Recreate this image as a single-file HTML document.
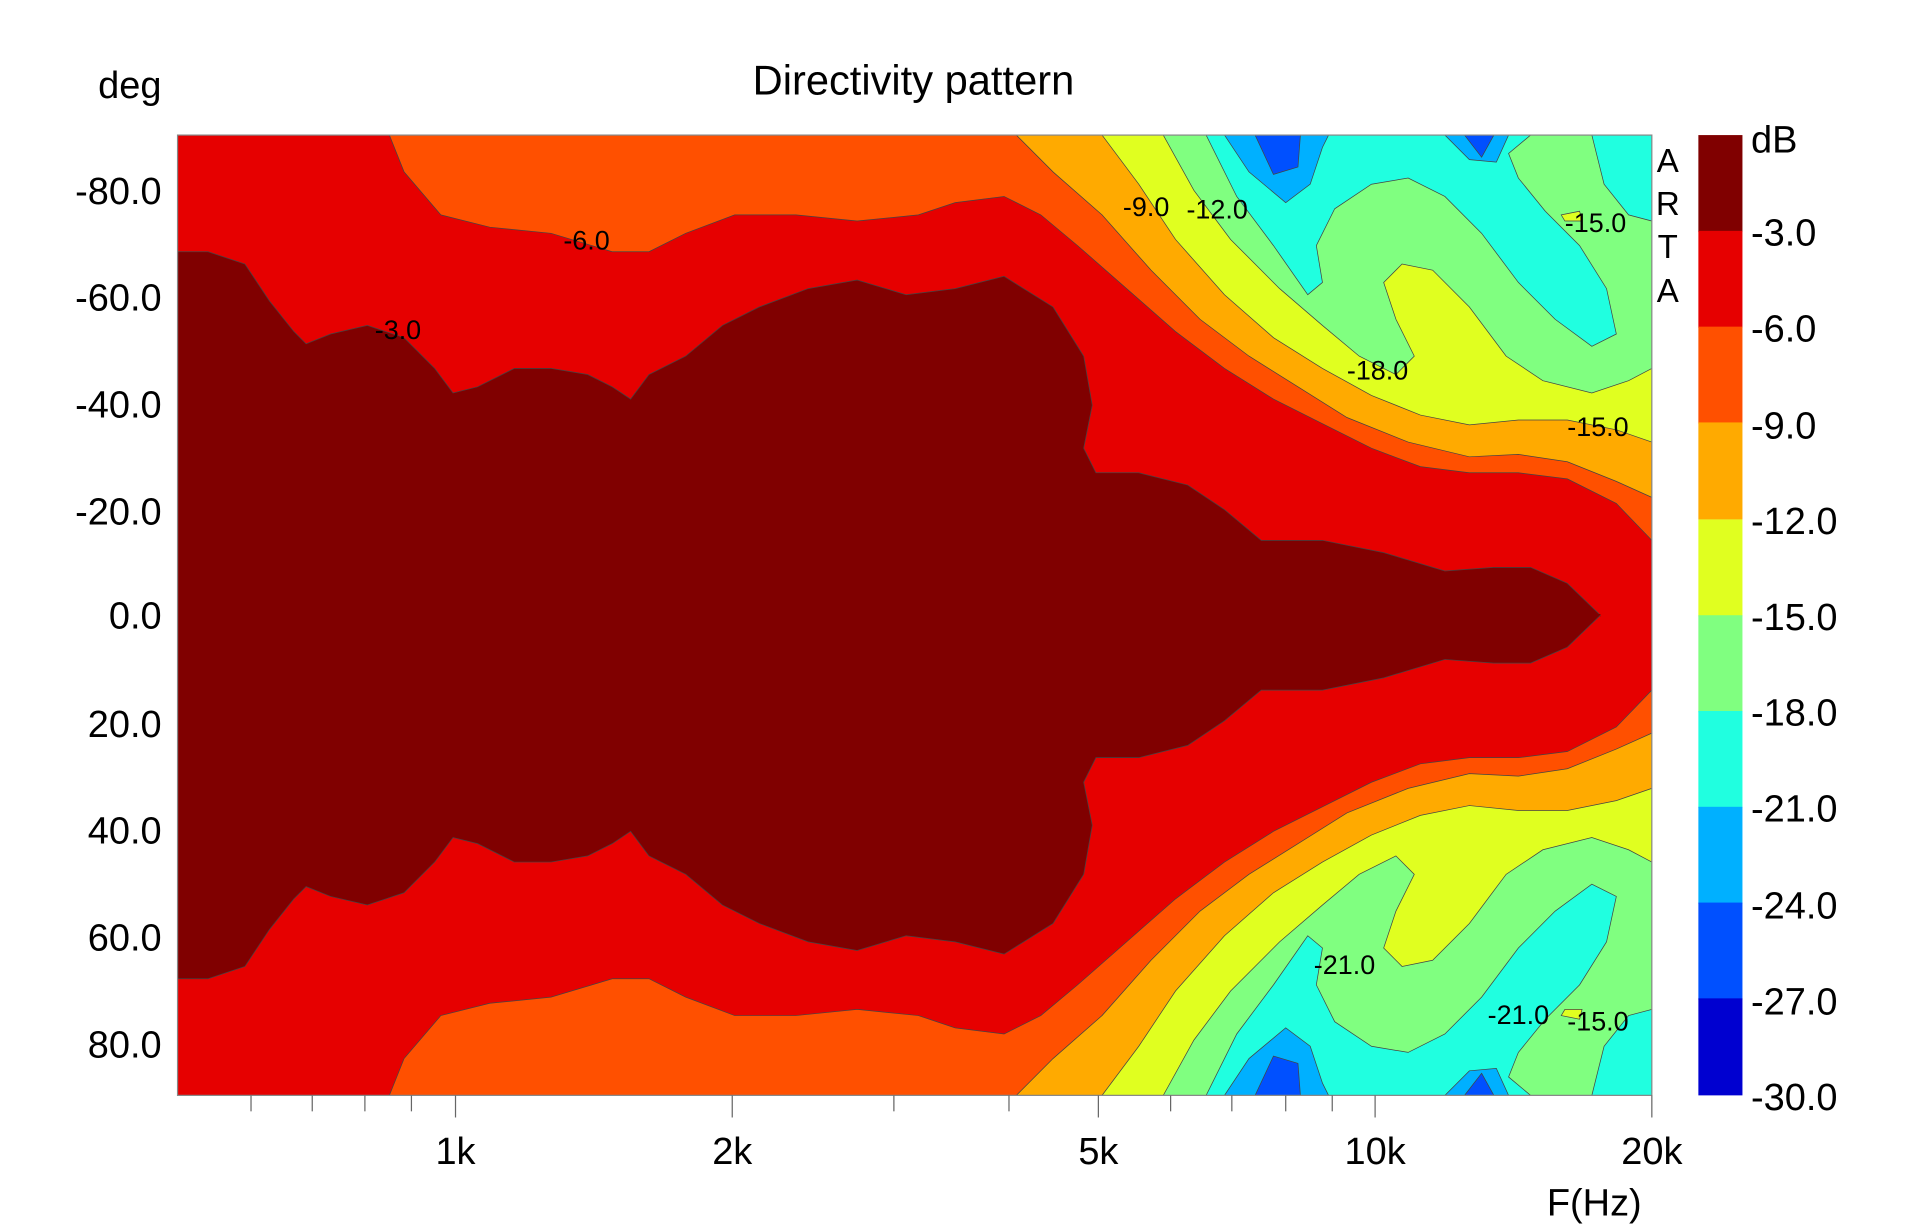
<!DOCTYPE html>
<html><head><meta charset="utf-8"><style>
html,body{margin:0;padding:0;background:#fff;}
svg{display:block;}
text{font-family:"Liberation Sans",Arial,sans-serif;fill:#000;}
</style></head><body>
<svg width="1920" height="1228" viewBox="0 0 1568 1000" preserveAspectRatio="none" xmlns="http://www.w3.org/2000/svg">
<defs>
<clipPath id="pc"><rect x="145" y="110" width="1204" height="782"/></clipPath>
<g id="half" stroke="#444" stroke-width="0.6">
 <path fill="#ff5000" d="M318,110 L330,140 L360,175 L400,185 L450,190 L500,205 L530,205 L560,190 L600,175 L650,175 L700,180 L750,175 L780,165 L820,160 L850,175 L880,200 L920,235 L960,270 L1000,300 L1040,325 L1080,345 L1120,365 L1160,380 L1200,385 L1240,385 L1280,390 L1320,410 L1349,440 L1349,110 Z"/>
 <path fill="#ffaa00" d="M830,110 L860,140 L900,175 L940,220 L980,260 L1020,290 L1060,315 L1100,340 L1150,360 L1200,372 L1240,370 L1280,376 L1320,392 L1349,405 L1349,110 Z"/>
 <path fill="#e0ff20" d="M900,110 L930,150 L960,195 L1000,240 L1040,275 L1080,300 L1120,322 L1160,338 L1200,346 L1240,342 L1280,342 L1320,350 L1349,360 L1349,110 Z"/>
 <path fill="#80ff80" d="M950,110 L975,155 L1005,195 L1045,235 L1080,265 L1110,290 L1140,305 L1155,290 L1140,260 L1130,230 L1145,215 L1170,220 L1200,250 L1230,290 L1260,310 L1300,320 L1330,310 L1349,300 L1349,110 Z"/>
 <path fill="#20ffe0" d="M985,110 L1010,160 L1040,200 L1068,240 L1080,230 L1075,200 L1090,170 L1120,150 L1150,145 L1180,160 L1210,190 L1240,230 L1270,260 L1300,282 L1320,272 L1312,235 L1290,200 L1262,172 L1240,145 L1232,125 L1250,110 Z"/>
 <path fill="#20ffe0" d="M1300,110 L1310,150 L1330,175 L1349,180 L1349,110 Z"/>
 <path fill="#00b0ff" d="M1000,110 L1020,140 L1050,165 L1070,150 L1080,120 L1085,110 Z M1180,110 L1200,130 L1222,132 L1232,110 Z"/>
 <path fill="#0050ff" d="M1025,110 L1040,142 L1060,136 L1062,110 Z M1196,110 L1210,128 L1220,110 Z"/>
 <path fill="#800000" stroke="none" d="M145,502 L145,205 L170,205 L200,215 L220,245 L240,270 L250,280 L270,272 L300,265 L330,275 L355,300 L370,320 L390,315 L420,300 L450,300 L480,305 L500,315 L515,325 L530,305 L560,290 L590,265 L620,250 L660,235 L700,228 L740,240 L780,235 L820,225 L860,250 L885,290 L892,330 L885,365 L895,385 L930,385 L970,395 L1000,415 L1030,440 L1080,440 L1130,450 L1180,465 L1220,462 L1250,462 L1280,475 L1307,501 L1307,502 Z"/>
 <path fill="none" d="M145,205 L170,205 L200,215 L220,245 L240,270 L250,280 L270,272 L300,265 L330,275 L355,300 L370,320 L390,315 L420,300 L450,300 L480,305 L500,315 L515,325 L530,305 L560,290 L590,265 L620,250 L660,235 L700,228 L740,240 L780,235 L820,225 L860,250 L885,290 L892,330 L885,365 L895,385 L930,385 L970,395 L1000,415 L1030,440 L1080,440 L1130,450 L1180,465 L1220,462 L1250,462 L1280,475 L1307,501"/>
 <path fill="#e0ff20" d="M1275,175 L1290,172 L1292,180 L1278,180 Z"/>
</g>
</defs>
<g clip-path="url(#pc)">
 <rect x="145" y="110" width="1204" height="782" fill="#e60000"/>
 <use href="#half"/>
 <use href="#half" transform="translate(0,1002) scale(1,-1)"/>
</g>
<rect x="145" y="110" width="1204" height="782" fill="none" stroke="#888" stroke-width="1"/>
<g font-size="22">
<text x="325" y="276" text-anchor="middle">-3.0</text>
<text x="479" y="203" text-anchor="middle">-6.0</text>
<text x="936" y="176" text-anchor="middle">-9.0</text>
<text x="994" y="178" text-anchor="middle">-12.0</text>
<text x="1303" y="189" text-anchor="middle">-15.0</text>
<text x="1125" y="309" text-anchor="middle">-18.0</text>
<text x="1305" y="355" text-anchor="middle">-15.0</text>
<text x="1098" y="793" text-anchor="middle">-21.0</text>
<text x="1240" y="834" text-anchor="middle">-21.0</text>
<text x="1305" y="839" text-anchor="middle">-15.0</text>
</g>
<g stroke="#666" stroke-width="1">
<line x1="205" y1="892" x2="205" y2="905"/><line x1="255" y1="892" x2="255" y2="905"/><line x1="298" y1="892" x2="298" y2="905"/><line x1="336" y1="892" x2="336" y2="905"/>
<line x1="372" y1="892" x2="372" y2="910"/><line x1="598" y1="892" x2="598" y2="910"/>
<line x1="730" y1="892" x2="730" y2="905"/><line x1="824" y1="892" x2="824" y2="905"/>
<line x1="897" y1="892" x2="897" y2="910"/><line x1="956" y1="892" x2="956" y2="905"/><line x1="1006" y1="892" x2="1006" y2="905"/><line x1="1050" y1="892" x2="1050" y2="905"/><line x1="1088" y1="892" x2="1088" y2="905"/>
<line x1="1123" y1="892" x2="1123" y2="910"/><line x1="1349" y1="892" x2="1349" y2="910"/>
</g>
<g font-size="31" text-anchor="end">
<text x="132" y="166">-80.0</text><text x="132" y="253">-60.0</text><text x="132" y="340">-40.0</text><text x="132" y="427">-20.0</text><text x="132" y="512">0.0</text><text x="132" y="600">20.0</text><text x="132" y="687">40.0</text><text x="132" y="774">60.0</text><text x="132" y="861">80.0</text>
</g>
<g font-size="31" text-anchor="middle">
<text x="372" y="948">1k</text><text x="598" y="948">2k</text><text x="897" y="948">5k</text><text x="1123" y="948">10k</text><text x="1349" y="948">20k</text>
<text x="1302" y="990">F(Hz)</text>
<text x="106" y="80">deg</text>
<text x="746" y="77" font-size="34">Directivity pattern</text>
</g>
<g font-size="27" text-anchor="middle">
<text x="1362" y="140">A</text><text x="1362" y="175">R</text><text x="1362" y="210">T</text><text x="1362" y="246">A</text>
</g>
<g>
<rect x="1387" y="110" width="36" height="79" fill="#800000"/>
<rect x="1387" y="188" width="36" height="79" fill="#e60000"/>
<rect x="1387" y="266" width="36" height="79" fill="#ff5000"/>
<rect x="1387" y="344" width="36" height="79" fill="#ffaa00"/>
<rect x="1387" y="423" width="36" height="79" fill="#e0ff20"/>
<rect x="1387" y="501" width="36" height="79" fill="#80ff80"/>
<rect x="1387" y="579" width="36" height="79" fill="#20ffe0"/>
<rect x="1387" y="657" width="36" height="79" fill="#00b0ff"/>
<rect x="1387" y="735" width="36" height="79" fill="#0050ff"/>
<rect x="1387" y="813" width="36" height="79" fill="#0000d0"/>
</g>
<g font-size="31">
<text x="1430" y="124">dB</text>
<text x="1430" y="200">-3.0</text><text x="1430" y="278">-6.0</text><text x="1430" y="357">-9.0</text><text x="1430" y="435">-12.0</text><text x="1430" y="513">-15.0</text><text x="1430" y="591">-18.0</text><text x="1430" y="669">-21.0</text><text x="1430" y="748">-24.0</text><text x="1430" y="826">-27.0</text><text x="1430" y="904">-30.0</text>
</g>
</svg>
</body></html>
